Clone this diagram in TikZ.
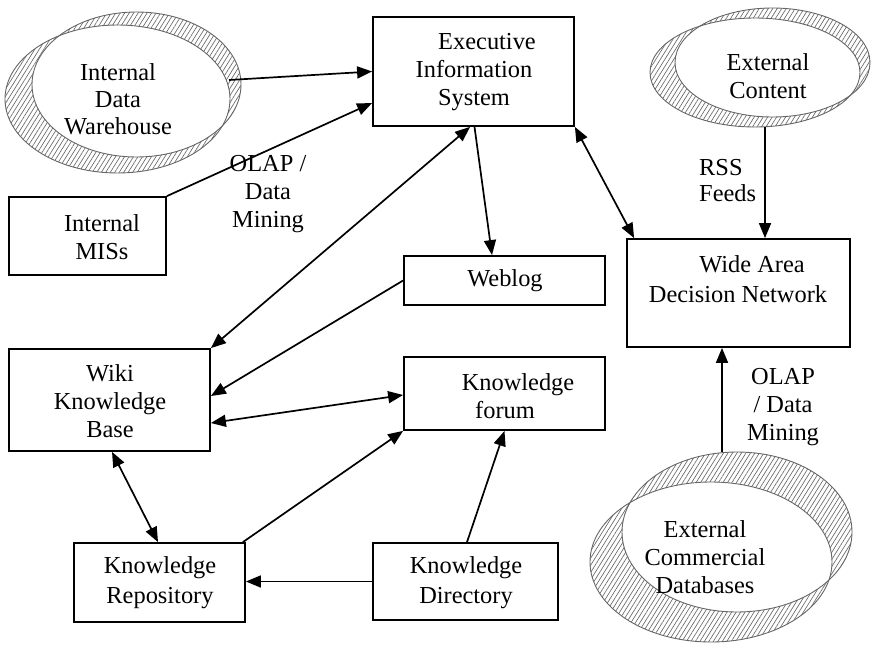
\documentclass[tikz,border=0pt]{standalone}
\usepackage{fontspec}
\setmainfont{Liberation Serif}
\usetikzlibrary{arrows.meta,patterns.meta}
\begin{document}
\begin{tikzpicture}[x=1pt,y=-1pt,
  box/.style={draw, line width=1.8pt, inner sep=0pt},
  lbl/.style={align=center, inner sep=0pt, font=\fontsize{24.4}{28}\selectfont},
  link/.style={line width=1.7pt, -{Triangle[length=15pt,width=12pt]}},
  twoway/.style={line width=1.7pt, {Triangle[length=15pt,width=12pt]}-{Triangle[length=15pt,width=12pt]}},
  band/.style={even odd rule, pattern={Lines[angle=58,distance=3.8pt,line width=0.65pt]}, pattern color=black!60},
  rim/.style={draw=black!60, line width=0.9pt},
]
\useasboundingbox (0,0) rectangle (872,650);

% ---- hatched rings (two offset ellipses, band = symmetric difference)
\fill[band] (136.5,84.5) ellipse [x radius=104.5pt, y radius=72.5pt]
            (117.5,99) ellipse [x radius=112.5pt, y radius=74pt];
\draw[rim] (136.5,84.5) ellipse [x radius=104.5pt, y radius=72.5pt];
\draw[rim] (117.5,99) ellipse [x radius=112.5pt, y radius=74pt];

\fill[band] (772.5,62.5) ellipse [x radius=97.5pt, y radius=54.5pt]
            (755,72.5) ellipse [x radius=105pt, y radius=54.5pt];
\draw[rim] (772.5,62.5) ellipse [x radius=97.5pt, y radius=54.5pt];
\draw[rim] (755,72.5) ellipse [x radius=105pt, y radius=54.5pt];

\fill[band] (737,532) ellipse [x radius=115pt, y radius=80pt]
            (711,562) ellipse [x radius=121pt, y radius=80pt];
\draw[rim] (737,532) ellipse [x radius=115pt, y radius=80pt];
\draw[rim] (711,562) ellipse [x radius=121pt, y radius=80pt];

% ---- ring labels and attachment points
\node[lbl, font=\fontsize{24.4}{27}\selectfont] (idw) at (118,99) {Internal\\Data\\Warehouse};
\node[lbl] (ec) at (768,76) {External\\Content};
\node[lbl] (ecd) at (705,557) {External\\Commercial\\Databases};
\coordinate (idw-e) at (229,80);
\coordinate (ec-s) at (765,127);
\coordinate (ecd-n) at (722,452);

% ---- boxes
\node[box, minimum width=201pt, minimum height=109pt] (eis) at (473.5,71.5) {};
\node[box, minimum width=157pt, minimum height=78pt] (mis) at (87.5,236) {};
\node[box, minimum width=201pt, minimum height=49pt] (weblog) at (504.5,280.5) {};
\node[box, minimum width=223pt, minimum height=108pt] (wadn) at (738.5,293) {};
\node[box, minimum width=201pt, minimum height=102pt] (wiki) at (109.5,400) {};
\node[box, minimum width=201pt, minimum height=73pt] (forum) at (504.5,393.5) {};
\node[box, minimum width=171pt, minimum height=79pt] (repo) at (159.5,582.5) {};
\node[box, minimum width=185pt, minimum height=77pt] (dir) at (465.5,581.5) {};

% ---- box texts
\node[lbl] (eis-t) at (474,72) {\hspace*{26pt}Executive\\Information\\System};
\node[lbl] (mis-t) at (102,237) {Internal\\MISs};
\node[lbl] (weblog-t) at (505,281) {Weblog};
\node[lbl, font=\fontsize{24.4}{30}\selectfont] (wadn-t) at (738,279) {\hspace*{28pt}Wide Area\\Decision Network};
\node[lbl] (wiki-t) at (110,401) {Wiki\\Knowledge\\Base};
\node[lbl] (forum-t) at (505,396) {\hspace*{26pt}Knowledge\\forum};
\node[lbl, font=\fontsize{24.4}{30}\selectfont] (repo-t) at (160,583) {Knowledge\\Repository};
\node[lbl, font=\fontsize{24.4}{30}\selectfont] (dir-t) at (466,583) {Knowledge\\Directory};

% ---- connector labels
\node[lbl] (olap1) at (268,194) {OLAP /\\Data\\Mining};
\node[lbl, align=left, anchor=west, font=\fontsize{24.4}{26}\selectfont] (rss) at (699,181) {RSS\\Feeds};
\node[lbl] (olap2) at (783,407) {OLAP\\/ Data\\Mining};

% ---- connectors
\draw[link] (idw-e) -- (eis.west);
\draw[link] (mis.north east) -- ([yshift=-31.5pt]eis.west);
\draw[link] ([xshift=1pt]eis.south) -- ([xshift=-12.5pt]weblog.north);
\draw[twoway] (eis.south east) -- ([xshift=8pt]wadn.north west);
\draw[twoway] (wiki.north east) -- ([xshift=-3.5pt]eis.south);
\draw[link] (weblog.west) -- ([yshift=4pt]wiki.east);
\draw[twoway] ([yshift=-23pt]wiki.east) -- ([yshift=-1.5pt]forum.west);
\draw[twoway] ([xshift=2.5pt]wiki.south) -- ([xshift=-1.5pt]repo.north);
\draw[link] ([xshift=-3pt]repo.north east) -- (forum.south west);
\draw[link] (dir.west) -- (dir.west -| repo.east);
\draw[link] ([xshift=1.5pt]dir.north) -- (forum.south);
\draw[link] (ec-s) -- (wadn.north -| ec-s);
\draw[link] (ecd-n) -- (wadn.south -| ecd-n);
\end{tikzpicture}
\end{document}
